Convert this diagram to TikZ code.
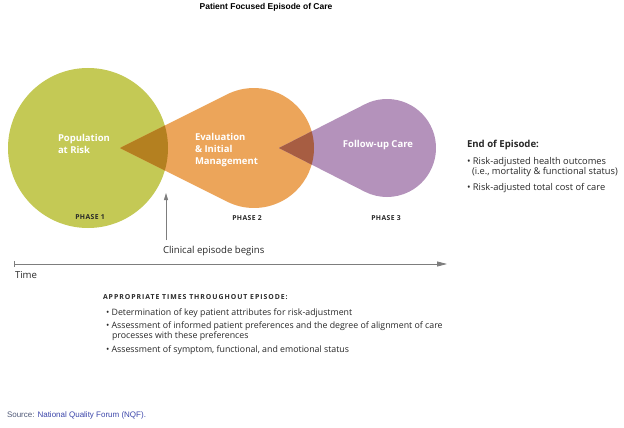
\documentclass[tikz,border=0pt]{standalone}
\usepackage{fontspec}
\setmainfont{Open Sans}
\newfontfamily\arialf{Liberation Sans}
\usetikzlibrary{calc,arrows.meta}
\definecolor{pgreen}{RGB}{196,201,85}
\definecolor{porange}{RGB}{236,165,90}
\definecolor{ppurple}{RGB}{180,146,187}
\definecolor{ovgo}{RGB}{180,128,32}
\definecolor{ovop}{RGB}{167,93,66}
\definecolor{txt}{RGB}{40,40,40}
\definecolor{arrowgray}{RGB}{125,125,125}
\definecolor{srcgray}{RGB}{80,90,120}
\definecolor{srcblue}{RGB}{60,70,170}
\begin{document}
\begin{tikzpicture}[x=1pt,y=-1pt,
  every node/.style={inner sep=0pt, outer sep=0pt, text=txt},
  biglabel/.style={text=white, font=\bfseries\fontsize{9.5}{12}\selectfont, align=left},
  phaselabel/.style={font=\bfseries\fontsize{6.8}{8}\selectfont\addfontfeature{LetterSpace=6}},
  bodytext/.style={font=\fontsize{8.8}{10}\selectfont, anchor=west},
  sidetext/.style={font=\fontsize{9.3}{11}\selectfont, anchor=west},
  headtext/.style={font=\bfseries\fontsize{6.9}{8}\selectfont\addfontfeature{LetterSpace=14}, anchor=west}]
\useasboundingbox (0,0) rectangle (624,428);
\fill[white] (0,0) rectangle (624,428);

\coordinate (g) at (88,148);
\coordinate (oT) at (120,148);
\coordinate (oC) at (254,148);
\coordinate (pT) at (279,148);
\coordinate (pC) at (387,148);

% green circle
\fill[pgreen] (g) circle (80pt);
% orange teardrop
\fill[porange] (oT) -- ($(oC)+(116.6:60pt)$) arc[start angle=116.6,end angle=-116.6,radius=60pt] -- cycle;
% purple teardrop
\fill[ppurple] (pT) -- ($(pC)+(117:49pt)$) arc[start angle=117,end angle=-117,radius=49pt] -- cycle;
% overlaps
\begin{scope}
  \clip (g) circle (80pt);
  \fill[ovgo] (oT) -- ($(oC)+(116.6:60pt)$) arc[start angle=116.6,end angle=-116.6,radius=60pt] -- cycle;
\end{scope}
\begin{scope}
  \clip (oC) circle (60pt);
  \fill[ovop] (pT) -- ($(pC)+(117:49pt)$) arc[start angle=117,end angle=-117,radius=49pt] -- cycle;
\end{scope}

% title
\node[font=\arialf\bfseries\fontsize{8.5}{10}\selectfont, text=black] (title) at (266,7) {Patient Focused Episode of Care};

% labels
\node[biglabel, anchor=west] (pop) at (58,144) {Population\\at Risk};
\node[biglabel, anchor=west] (eval) at (195,150) {Evaluation\\\& Initial\\Management};
\node[biglabel] (follow) at (378,145) {Follow-up Care};

\node[phaselabel] (ph1) at (90,217) {PHASE 1};
\node[phaselabel] (ph2) at (247,218) {PHASE 2};
\node[phaselabel] (ph3) at (386,218) {PHASE 3};

% clinical episode arrow
\coordinate (arrB) at (166,240);
\coordinate (arrT) at (166,193);
\draw[arrowgray, line width=0.9pt, -{Triangle[length=7pt,width=4pt]}] (arrB) -- (arrT);
\node[sidetext, font=\fontsize{9.6}{11}\selectfont] (clin) at (163,251) {Clinical episode begins};

% time axis
\coordinate (tL) at (14,264);
\coordinate (tR) at (447,264);
\draw[arrowgray, line width=0.8pt, -{Triangle[length=10pt,width=5pt]}] (tL) -- (tR);
\draw[arrowgray, line width=0.7pt] ($(tL)+(0,-3)$) -- ($(tL)+(0,3)$);
\node[sidetext, font=\fontsize{9.6}{11}\selectfont] (time) at (15,275) {Time};

% appropriate times
\node[headtext] (appr) at (103,297) {APPROPRIATE TIMES THROUGHOUT EPISODE:};
\node[bodytext] (b1) at (106,313) {\textbullet\ Determination of key patient attributes for risk-adjustment};
\node[bodytext] (b2) at (106,326) {\textbullet\ Assessment of informed patient preferences and the degree of alignment of care};
\node[bodytext] (b2c) at (112,336) {processes with these preferences};
\node[bodytext] (b3) at (106,350) {\textbullet\ Assessment of symptom, functional, and emotional status};

% end of episode
\node[font=\bfseries\fontsize{9.6}{11}\selectfont, anchor=west] (eoe) at (467,145) {End of Episode:};
\node[sidetext] (e1) at (467,162) {\textbullet\ Risk-adjusted health outcomes};
\node[sidetext] (e1c) at (472,172) {(i.e., mortality \& functional status)};
\node[sidetext] (e2) at (467,188) {\textbullet\ Risk-adjusted total cost of care};

% source
\node[font=\arialf\fontsize{8}{9}\selectfont, anchor=west, text=srcgray] (src) at (7,415) {Source: \textcolor{srcblue}{National Quality Forum (NQF).}};
\end{tikzpicture}
\end{document}
